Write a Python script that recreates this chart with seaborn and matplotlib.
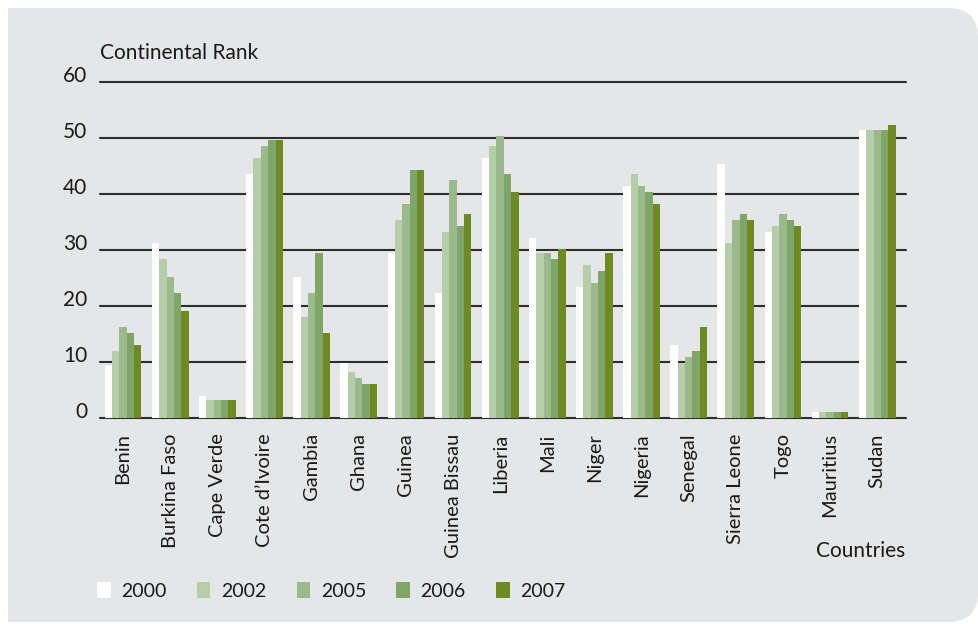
import matplotlib
matplotlib.use("Agg")
import matplotlib.pyplot as plt
import seaborn as sns
import pandas as pd
from matplotlib.patches import FancyBboxPatch, Rectangle

countries = ["Benin", "Burkina Faso", "Cape Verde", "Cote d\u2019Ivoire", "Gambia", "Ghana",
             "Guinea", "Guinea Bissau", "Liberia", "Mali", "Niger", "Nigeria", "Senegal",
             "Sierra Leone", "Togo", "Mauritius", "Sudan"]
years = ["2000", "2002", "2005", "2006", "2007"]
rank_2000 = [9.3, 31.2, 3.9, 43.6, 25.2, 9.8, 29.5, 22.3, 46.4, 32.1, 23.4, 41.4, 13.0, 45.4, 33.2, 1.1, 51.4]
rank_2002 = [12.0, 28.4, 3.2, 46.4, 18.0, 8.2, 35.4, 33.2, 48.6, 29.5, 27.3, 43.6, 9.8, 31.2, 34.3, 1.1, 51.4]
rank_2005 = [16.2, 25.2, 3.2, 48.6, 22.3, 7.1, 38.2, 42.5, 50.4, 29.5, 24.1, 41.4, 10.9, 35.4, 36.4, 1.1, 51.4]
rank_2006 = [15.2, 22.3, 3.2, 49.6, 29.5, 6.1, 44.3, 34.3, 43.6, 28.4, 26.2, 40.4, 12.0, 36.4, 35.4, 1.1, 51.4]
rank_2007 = [13.0, 19.1, 3.2, 49.6, 15.2, 6.1, 44.3, 36.4, 40.4, 30.2, 29.5, 38.2, 16.2, 35.4, 34.3, 1.1, 52.3]
yticks = [0, 10, 20, 30, 40, 50, 60]

series = {"2000": rank_2000, "2002": rank_2002, "2005": rank_2005, "2006": rank_2006, "2007": rank_2007}
rows = []
for y in years:
    for c, v in zip(countries, series[y]):
        rows.append({"Country": c, "Year": y, "Rank": v})
df = pd.DataFrame(rows)

palette = {"2000": "#ffffff", "2002": "#b6cdaa", "2005": "#9aba8b", "2006": "#7fa668", "2007": "#6e8a22"}

sns.set_theme(style="white")
plt.rcParams["font.family"] = ["Lato", "DejaVu Sans"]
text_color = "#1a1a1a"

W, H = 979, 624
fig = plt.figure(figsize=(W / 100, H / 100), dpi=100)
fig.patch.set_facecolor("white")

panel = FancyBboxPatch((-40, 2), 1018, 614, boxstyle="round,pad=0,rounding_size=30",
                       transform=None, facecolor="#e5e6e8", edgecolor="none", zorder=-10)
fig.patches.append(panel)
cover = Rectangle((0, 0), 8, H, transform=None, facecolor="white", edgecolor="none", zorder=-9)
fig.patches.append(cover)

ax = fig.add_axes([100 / W, (H - 418) / H, (906 - 100) / W, (418 - 82) / H])
ax.patch.set_alpha(0)
ax.set_zorder(5)

sns.barplot(data=df, x="Country", y="Rank", hue="Year", hue_order=years, order=countries,
            palette=palette, width=0.78, saturation=1, edgecolor="none", linewidth=0,
            errorbar=None, ax=ax, zorder=3)

ax.set_ylim(0, 60)
ax.set_xlim(-0.49, 16.61)
ax.set_yticks(yticks)
ax.yaxis.grid(True, color="#2e2e2e", linewidth=1.5, zorder=0)
ax.set_axisbelow(True)
for gl in ax.get_ygridlines():
    gl.set_clip_on(False)
for s in ax.spines.values():
    s.set_visible(False)
ax.tick_params(axis="both", length=0, colors=text_color)
ax.tick_params(axis="y", pad=9, labelsize=15)
ax.tick_params(axis="x", pad=11, labelsize=14.5)
ax.set_xlabel("")
ax.set_ylabel("")
plt.setp(ax.get_xticklabels(), rotation=90, va="top", ha="center")
plt.setp(ax.get_yticklabels(), va="baseline")

fig.text(100 / W, 1 - 59 / H, "Continental Rank", fontsize=15, color=text_color, va="baseline", ha="left")
fig.text(905 / W, 1 - 557 / H, "Countries", fontsize=15, color=text_color, va="baseline", ha="right")

sns.move_legend(ax, loc="center left", bbox_to_anchor=(97 / W, 1 - 591 / H), bbox_transform=fig.transFigure,
                ncol=5, frameon=False, title=None, fontsize=14, handlelength=0.7, handleheight=0.85,
                handletextpad=0.55, columnspacing=1.55, borderpad=0, borderaxespad=0)
for t in ax.get_legend().get_texts():
    t.set_color(text_color)

fig.savefig("out.png", dpi=100)
